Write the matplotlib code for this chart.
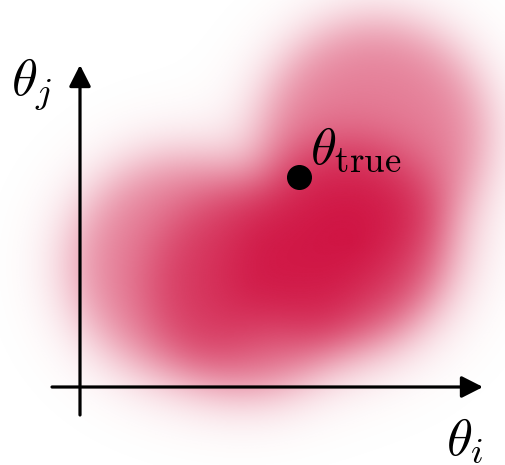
import numpy as np
import matplotlib
matplotlib.use("Agg")
import matplotlib.pyplot as plt

plt.rcParams['mathtext.fontset'] = 'cm'

# soft disks that make up the red region (centre x, centre y, radius, strength)
blob_x = [2.95, 0.98, 1.70, 2.65, 2.72, 1.70]
blob_y = [2.55, 1.22, 0.98, 1.42, 1.45, 1.02]
blob_r = [1.10, 1.05, 1.00, 1.00, 0.55, 0.35]
blob_a = [0.50, 0.50, 0.55, 0.65, 0.70, 0.30]
blob_w = [0.17, 0.18, 0.17, 0.17, 0.25, 0.20]

theta_true = (2.19, 2.10)
red = (0.80, 0.0, 0.20)

xlim = (-0.80, 4.25)
ylim = (-0.78, 3.87)

fig = plt.figure(figsize=(5.05, 4.65), dpi=100)
ax = fig.add_axes([0, 0, 1, 1])
ax.set_xlim(*xlim)
ax.set_ylim(*ylim)
ax.axis('off')

# build the density on a grid
gx = np.linspace(xlim[0], xlim[1], 600)
gy = np.linspace(ylim[0], ylim[1], 560)
X, Y = np.meshgrid(gx, gy)
keep = np.ones_like(X)
for cx, cy, r, a, w in zip(blob_x, blob_y, blob_r, blob_a, blob_w):
    d = np.hypot(X - cx, Y - cy)
    keep *= 1 - a / (1 + np.exp((d - r) / w))
alpha = np.clip(1 - keep, 0, 1)

img = np.zeros(X.shape + (4,))
img[..., 0], img[..., 1], img[..., 2] = red
img[..., 3] = alpha
ax.imshow(img, extent=(xlim[0], xlim[1], ylim[0], ylim[1]), origin='lower',
          interpolation='bilinear', aspect='auto', zorder=1)

# axes with arrows
arrow = dict(arrowstyle='-|>,head_length=0.65,head_width=0.33', lw=2.3,
             color='black', mutation_scale=20, shrinkA=0, shrinkB=0)
ax.annotate('', xy=(4.03, 0), xytext=(-0.28, 0), arrowprops=arrow, zorder=3)
ax.annotate('', xy=(0, 3.22), xytext=(0, -0.28), arrowprops=arrow, zorder=3)

ax.plot(*theta_true, 'o', color='black', markersize=17, zorder=4)
ax.text(2.30, 2.23, r'$\theta_{\rm true}$', fontsize=38, va='baseline', zorder=4)
ax.text(-0.69, 2.92, r'$\theta_j$', fontsize=38, va='baseline', zorder=4)
ax.text(3.66, -0.68, r'$\theta_i$', fontsize=38, va='baseline', zorder=4)

fig.savefig('out.png', dpi=100)
